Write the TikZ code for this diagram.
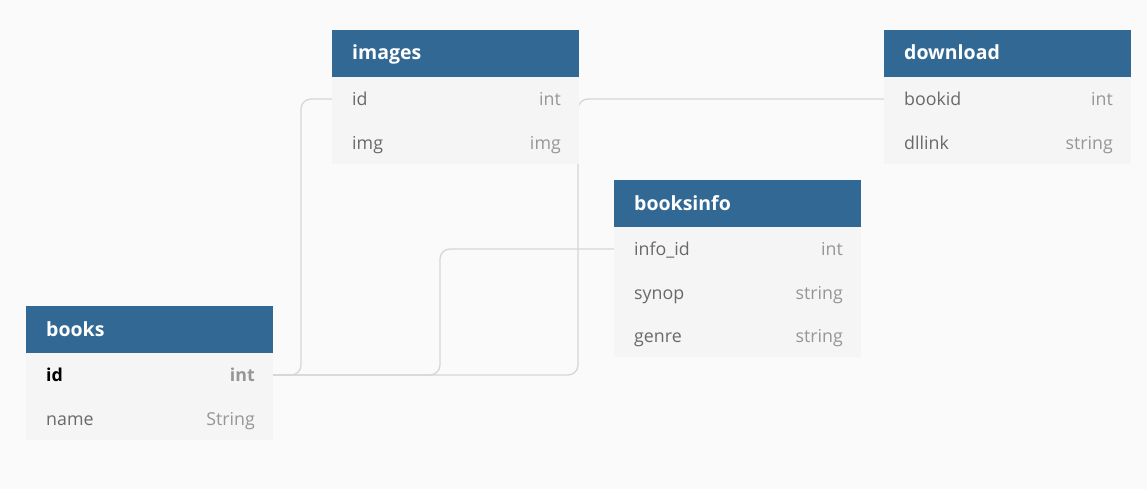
\documentclass[tikz,border=0pt]{standalone}
\usepackage{fontspec}
\setmainfont{Open Sans}
\begin{document}
\begin{tikzpicture}[x=1pt,y=-1pt,
  hdr/.style={fill=hdrblue, minimum width=247pt, minimum height=47pt, inner sep=0pt, anchor=north west, draw=none},
  row/.style={fill=rowbg, minimum width=247pt, minimum height=44pt, inner sep=0pt, anchor=north west, draw=none},
  htxt/.style={text=white, font=\fontsize{19.5}{22}\selectfont\bfseries, anchor=base west, inner sep=0pt},
  ftxt/.style={text=fieldgray, font=\fontsize{17.8}{20}\selectfont, anchor=base west, inner sep=0pt},
  ttxt/.style={text=typegray, font=\fontsize{17.8}{20}\selectfont, anchor=base east, inner sep=0pt},
  conn/.style={draw=linegray, line width=1.3pt, rounded corners=10pt}]
\definecolor{hdrblue}{RGB}{49,104,148}
\definecolor{rowbg}{RGB}{245,245,245}
\definecolor{bg}{RGB}{250,250,250}
\definecolor{fieldgray}{RGB}{105,105,105}
\definecolor{typegray}{RGB}{150,150,150}
\definecolor{linegray}{RGB}{214,214,214}
\fill[bg] (0,0) rectangle (1147,489);
\useasboundingbox (0,0) rectangle (1147,489);
% coordinates of connector ends (rows' edges)
\coordinate (books-id-e) at (273,375);
\coordinate (images-id-w) at (332,99);
\coordinate (info-id-w) at (614,249);
\coordinate (dl-bookid-w) at (884,99);
% connectors (drawn beneath tables)
\draw[conn] (books-id-e) -- ++(305,0) |- (dl-bookid-w);
\draw[conn] (books-id-e) -- ++(167,0) |- (info-id-w);
\draw[conn] (books-id-e) -- ++(28,0) |- (images-id-w);
% books
\node[hdr] (books-h) at (26,306) {};
\node[row] (books-r1) at (26,353) {};
\node[row, minimum height=43pt] (books-r2) at (26,397) {};
\node[htxt] (books-t) at (46,336) {books};
\node[ftxt, text=black, font=\fontsize{17.8}{20}\selectfont\bfseries] (books-id) at (46,381.5) {id};
\node[ttxt, font=\fontsize{17.8}{20}\selectfont\bfseries] (books-idt) at (255,381.5) {int};
\node[ftxt] (books-name) at (46,425.5) {name};
\node[ttxt] (books-namet) at (255,425.5) {String};
% images
\node[hdr] (images-h) at (332,30) {};
\node[row] (images-r1) at (332,77) {};
\node[row, minimum height=43pt] (images-r2) at (332,121) {};
\node[htxt] (images-t) at (352,60) {images};
\node[ftxt] (images-id) at (352,105.5) {id};
\node[ttxt] (images-idt) at (561,105.5) {int};
\node[ftxt] (images-img) at (352,149.5) {img};
\node[ttxt] (images-imgt) at (561,149.5) {img};
% download
\node[hdr] (dl-h) at (884,30) {};
\node[row] (dl-r1) at (884,77) {};
\node[row, minimum height=43pt] (dl-r2) at (884,121) {};
\node[htxt] (dl-t) at (904,60) {download};
\node[ftxt] (dl-bookid) at (904,105.5) {bookid};
\node[ttxt] (dl-bookidt) at (1113,105.5) {int};
\node[ftxt] (dl-link) at (904,149.5) {dllink};
\node[ttxt] (dl-linkt) at (1113,149.5) {string};
% booksinfo
\node[hdr] (info-h) at (614,180) {};
\node[row] (info-r1) at (614,227) {};
\node[row] (info-r2) at (614,271) {};
\node[row, minimum height=42pt] (info-r3) at (614,315) {};
\node[htxt] (info-t) at (634,210) {booksinfo};
\node[ftxt] (info-id) at (634,255.5) {info\_id};
\node[ttxt] (info-idt) at (843,255.5) {int};
\node[ftxt] (info-synop) at (634,299.5) {synop};
\node[ttxt] (info-synopt) at (843,299.5) {string};
\node[ftxt] (info-genre) at (634,342.5) {genre};
\node[ttxt] (info-genret) at (843,342.5) {string};
\end{tikzpicture}
\end{document}
